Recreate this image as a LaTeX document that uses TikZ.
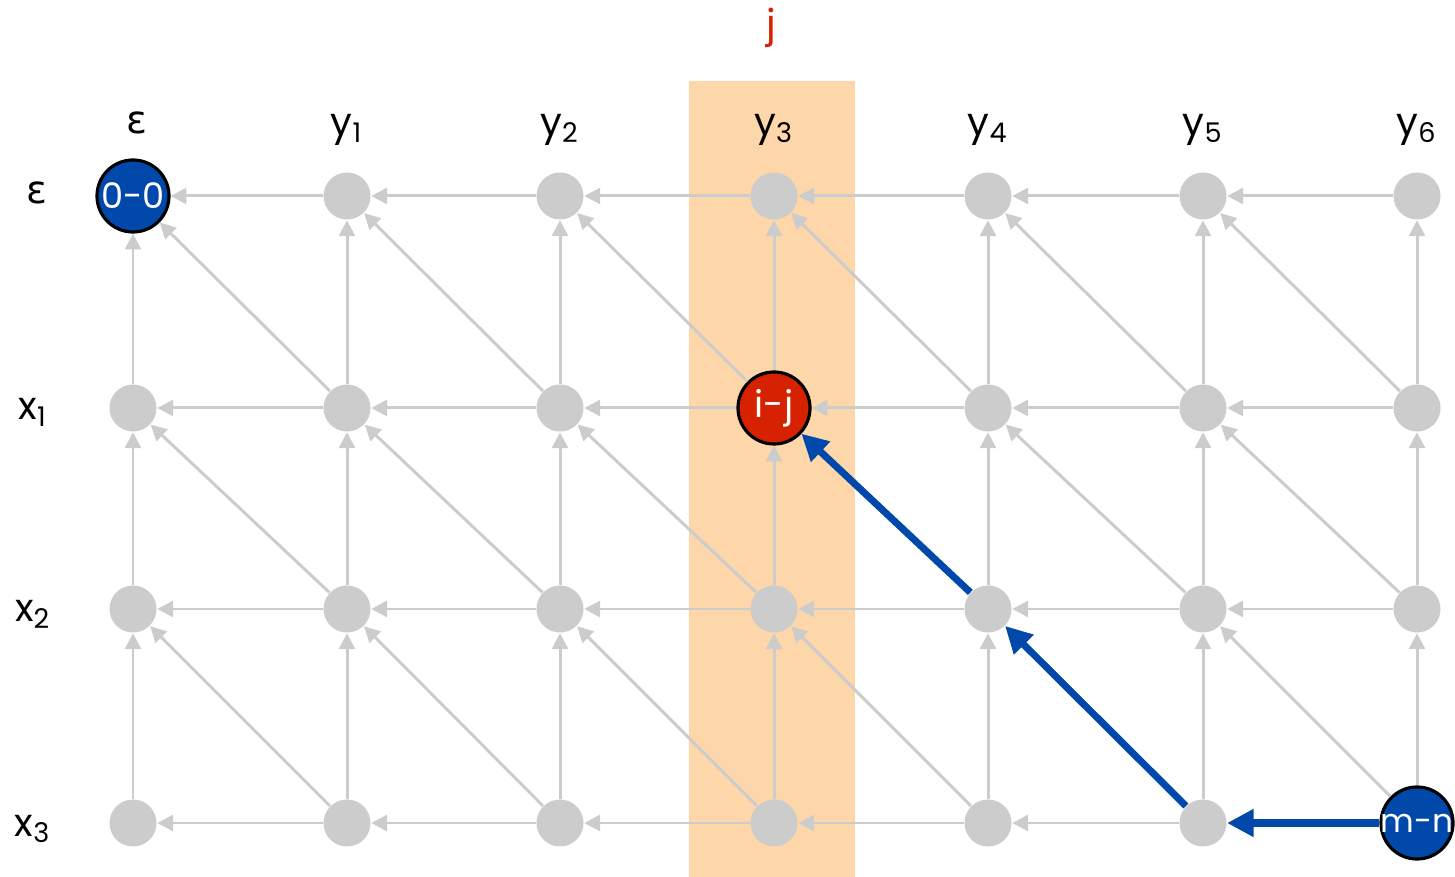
\documentclass[tikz,border=0pt]{standalone}
\usepackage{fontspec}
\setmainfont{Poppins}
\newfontfamily\greekfont{DejaVu Sans}
\usetikzlibrary{arrows.meta}
\definecolor{gridgray}{RGB}{204,204,204}
\definecolor{pathblue}{RGB}{0,72,170}
\definecolor{cellred}{RGB}{214,34,0}
\definecolor{colpeach}{RGB}{253,214,169}

\begin{document}
\begin{tikzpicture}[x=0.01cm, y=-0.01cm,
    cell/.style={circle, fill=gridgray, inner sep=0pt, minimum size=0.47cm},
    hit/.style={circle, draw=black, line width=0.9pt, inner sep=0pt,
                minimum size=0.72cm},
    hitlabel/.style={text=white, inner sep=0pt, font=\fontsize{10.5}{12}\selectfont},
    c00/.style={hit, fill=pathblue,
                label={[hitlabel, font=\fontsize{10}{12}\selectfont]center:0-0}},
    c13/.style={hit, fill=cellred, label={[hitlabel]center:i-j}},
    c36/.style={hit, fill=pathblue,
                label={[hitlabel, font=\fontsize{9.3}{11}\selectfont]center:m-n}},
    link/.style={gridgray, line width=0.85pt, -{Triangle[length=4.5pt, width=4.5pt]}},
    best/.style={pathblue, line width=2pt, -{Triangle[length=7.5pt, width=7.5pt]}},
    axis/.style={anchor=base, font=\fontsize{11}{13}\selectfont},
]
\useasboundingbox (0,0) rectangle (1455,877);
\fill[colpeach] (689,81) rectangle (855,877);
\node[axis, text=cellred] (jlabel) at (771,38) {j};

% labels
\node[axis] (col0) at (137,134) {\greekfont ε};
\foreach \x [count=\j] in {347,560,774,988,1203,1417}
    \node[axis] (col\j) at (\x,136) {y\textsubscript{\j}};
\node[axis] (row0) at (37,204) {\greekfont ε};
\foreach \y [count=\i] in {420,622,836}
    \node[axis] (row\i) at (33,\y) {x\textsubscript{\i}};

% grid cells
\foreach \y [count=\i from 0] in {196,408,609,823}
    \foreach \x [count=\j from 0] in {133,347,560,774,988,1203,1417}
        \node[cell, c\i\j/.try] (n\i\j) at (\x,\y) {};

% moves
\foreach \i in {0,...,3}
    \foreach \j in {0,...,5} {
        \pgfmathtruncatemacro\k{\j+1}
        \draw[link] (n\i\k) -- (n\i\j);
    }
\foreach \i in {0,...,2}
    \foreach \j in {0,...,6} {
        \pgfmathtruncatemacro\m{\i+1}
        \draw[link] (n\m\j) -- (n\i\j);
    }
\foreach \i in {0,...,2}
    \foreach \j in {0,...,5} {
        \pgfmathtruncatemacro\m{\i+1}
        \pgfmathtruncatemacro\k{\j+1}
        \draw[link] (n\m\k) -- (n\i\j);
    }

% traceback
\draw[best] (n36) -- (n35);
\draw[best] (n35) -- (n24);
\draw[best] (n24) -- (n13);
\end{tikzpicture}
\end{document}
